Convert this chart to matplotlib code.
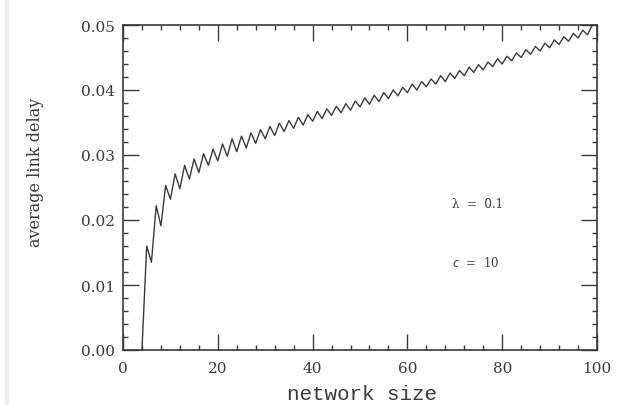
import numpy as np
import matplotlib
matplotlib.use("Agg")
import matplotlib.pyplot as plt
from matplotlib.ticker import MultipleLocator
from matplotlib.lines import Line2D

# network size 4..99, delay (peaks at odd sizes)
sizes = list(range(4, 100))
delay = [
    0.0000, 0.0160, 0.0135, 0.0222, 0.0191, 0.0253, 0.0232, 0.0271,   # 4-11
    0.0248, 0.0284, 0.0263, 0.0294, 0.0273, 0.0302, 0.0284, 0.0309,   # 12-19
    0.0291, 0.0317, 0.0298, 0.0325, 0.0305, 0.0329, 0.0311, 0.0334,   # 20-27
    0.0318, 0.0339, 0.0325, 0.0344, 0.0330, 0.0349, 0.0336, 0.0353,   # 28-35
    0.0341, 0.0358, 0.0346, 0.0362, 0.0352, 0.0367, 0.0356, 0.0371,   # 36-43
    0.0361, 0.0375, 0.0365, 0.0379, 0.0369, 0.0383, 0.0374, 0.0388,   # 44-51
    0.0378, 0.0392, 0.0382, 0.0396, 0.0387, 0.0400, 0.0391, 0.0404,   # 52-59
    0.0396, 0.0409, 0.0400, 0.0413, 0.0405, 0.0417, 0.0409, 0.0422,   # 60-67
    0.0413, 0.0426, 0.0418, 0.0430, 0.0422, 0.0435, 0.0427, 0.0439,   # 68-75
    0.0431, 0.0443, 0.0436, 0.0448, 0.0440, 0.0452, 0.0445, 0.0457,   # 76-83
    0.0450, 0.0462, 0.0455, 0.0467, 0.0460, 0.0472, 0.0465, 0.0477,   # 84-91
    0.0470, 0.0482, 0.0475, 0.0487, 0.0480, 0.0492, 0.0485, 0.0500,   # 92-99
]

ink = "#3a3a3a"

fig = plt.figure(figsize=(6.29, 4.06), dpi=100)
ax = fig.add_axes([123/629, 1 - 351/406, 474/629, 325/406])

ax.plot(sizes, delay, color=ink, lw=1.0, clip_on=False)

ax.set_xlim(0, 100)
ax.set_ylim(0, 0.05)
ax.xaxis.set_major_locator(MultipleLocator(20))
ax.xaxis.set_minor_locator(MultipleLocator(4))
ax.yaxis.set_major_locator(MultipleLocator(0.01))
ax.yaxis.set_minor_locator(MultipleLocator(0.002))
ax.yaxis.set_major_formatter(matplotlib.ticker.FormatStrFormatter("%.2f"))

ax.tick_params(which="both", direction="in", top=True, right=True, color=ink, width=1.0)
ax.tick_params(which="major", length=11.5)
ax.tick_params(which="minor", length=3.3)
ax.tick_params(axis="x", which="major", pad=8, labelsize=11, labelcolor=ink)
ax.tick_params(axis="y", which="major", pad=6, labelsize=11, labelcolor=ink)
for lab in ax.get_xticklabels() + ax.get_yticklabels():
    lab.set_family("DejaVu Serif")
for s in ax.spines.values():
    s.set_color(ink)
    s.set_linewidth(1.2)

ax.set_xlabel("network size", family="Liberation Mono", fontsize=15, color=ink)
ax.xaxis.set_label_coords(0.505, -0.105)
ax.set_ylabel("average link delay", family="DejaVu Serif", fontsize=11.5, color=ink)
ax.yaxis.set_label_coords(-0.167, 0.55)

ax.text(69.5, 0.0225, "λ  =  0.1", family="DejaVu Serif", fontsize=8.5, color=ink, va="center")
ax.text(69.5, 0.0136, "$c$  =  10", family="DejaVu Serif", fontsize=8.5, color=ink, va="center")

# faint scan border on the left
fig.add_artist(Line2D([0.011, 0.011], [0, 1], transform=fig.transFigure, color="#ececec", lw=3))

fig.savefig("out.png", dpi=100)
